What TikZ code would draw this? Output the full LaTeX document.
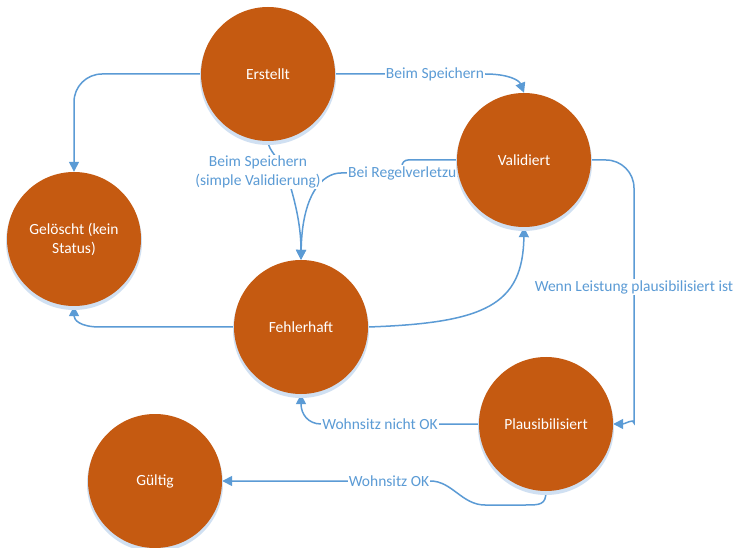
\documentclass[tikz,border=0pt]{standalone}
\usepackage{fontspec}
\setmainfont{Carlito}
\usetikzlibrary{arrows.meta}
\definecolor{lineblue}{RGB}{91,155,213}
\definecolor{stfill}{RGB}{197,90,17}
\definecolor{shadowblue}{RGB}{208,224,242}
\pgfdeclarelayer{back}
\pgfdeclarelayer{mid}
\pgfsetlayers{back,mid,main}
\begin{document}
\begin{tikzpicture}[x=1pt,y=-1pt,
  state/.style={circle,fill=stfill,minimum size=134pt,inner sep=0pt,text=white,font=\fontsize{15.5}{19}\selectfont,align=center},
  shadowc/.style={circle,fill=shadowblue,minimum size=136pt,inner sep=0pt},
  lbl/.style={fill=white,inner sep=1pt,text=lineblue,font=\fontsize{15.5}{19}\selectfont,align=center},
  conn/.style={draw=lineblue,line width=1.5pt,-{Triangle[length=10pt,width=10pt]}}]
\begin{pgfonlayer}{back}
\fill[white] (0,0) rectangle (737,548);
\end{pgfonlayer}
\useasboundingbox (0,0) rectangle (737,548);
% labels
\node[lbl] (l2) at (435,74) {Beim Speichern};
\node[lbl] (l3) at (258,172) {Beim Speichern\\(simple Validierung)};
\node[lbl,anchor=west] (l4) at (347,173) {Bei Regelverletzung};
\node[lbl] (l7) at (634,287) {Wenn Leistung plausibilisiert ist};
\node[lbl] (l8) at (380,424) {Wohnsitz nicht OK};
\node[lbl] (l9) at (389,481) {Wohnsitz OK};
% shadows
\node[shadowc] at (268,77) {};
\node[shadowc] at (524,163) {};
\node[shadowc] at (74,242) {};
\node[shadowc] at (301,330) {};
\node[shadowc] at (546,427) {};
\node[shadowc] at (155,484) {};
% states
\node[state] (er) at (268,74) {Erstellt};
\node[state] (va) at (524,160) {Validiert};
\node[state] (gl) at (74,239) {Gelöscht (kein\\Status)};
\node[state] (fe) at (301,327) {Fehlerhaft};
\node[state] (pl) at (546,424) {Plausibilisiert};
\node[state] (gu) at (155,481) {Gültig};
% connectors
\begin{pgfonlayer}{mid}
\draw[conn,rounded corners=28pt] (er.west) -| (gl.north);
\draw[conn] (er.east) -- (l2.east) .. controls (508,74) and (519,80) .. (va.north);
\draw[conn] (er.south) .. controls (268,150) and (280,160) .. (286,172) .. controls (295,200) and (301,225) .. (fe.north);
\draw[conn,rounded corners=6pt] (va.west) -- (402,160) -- (402,173) -- (l4.west) [sharp corners] .. controls (322,173) and (302,195) .. (fe.north);
\draw[conn] (fe.east) .. controls (485,323) and (523,305) .. (va.south);
\draw[conn] (fe.west) -- (100,327) .. controls (80,327) and (74,320) .. (gl.south);
\draw[conn,rounded corners=28pt] (va.east) -| (634,395) [sharp corners] .. controls (634,418) and (625,424) .. (pl.east);
\draw[conn] (pl.west) -- (l8.west) .. controls (308,424) and (301,414) .. (fe.south);
\draw[conn] (pl.south) .. controls (546,505) and (540,505) .. (525,505) -- (485,505) .. controls (462,505) and (452,481) .. (l9.east) -- (gu.east);
\end{pgfonlayer}
\end{tikzpicture}
\end{document}
